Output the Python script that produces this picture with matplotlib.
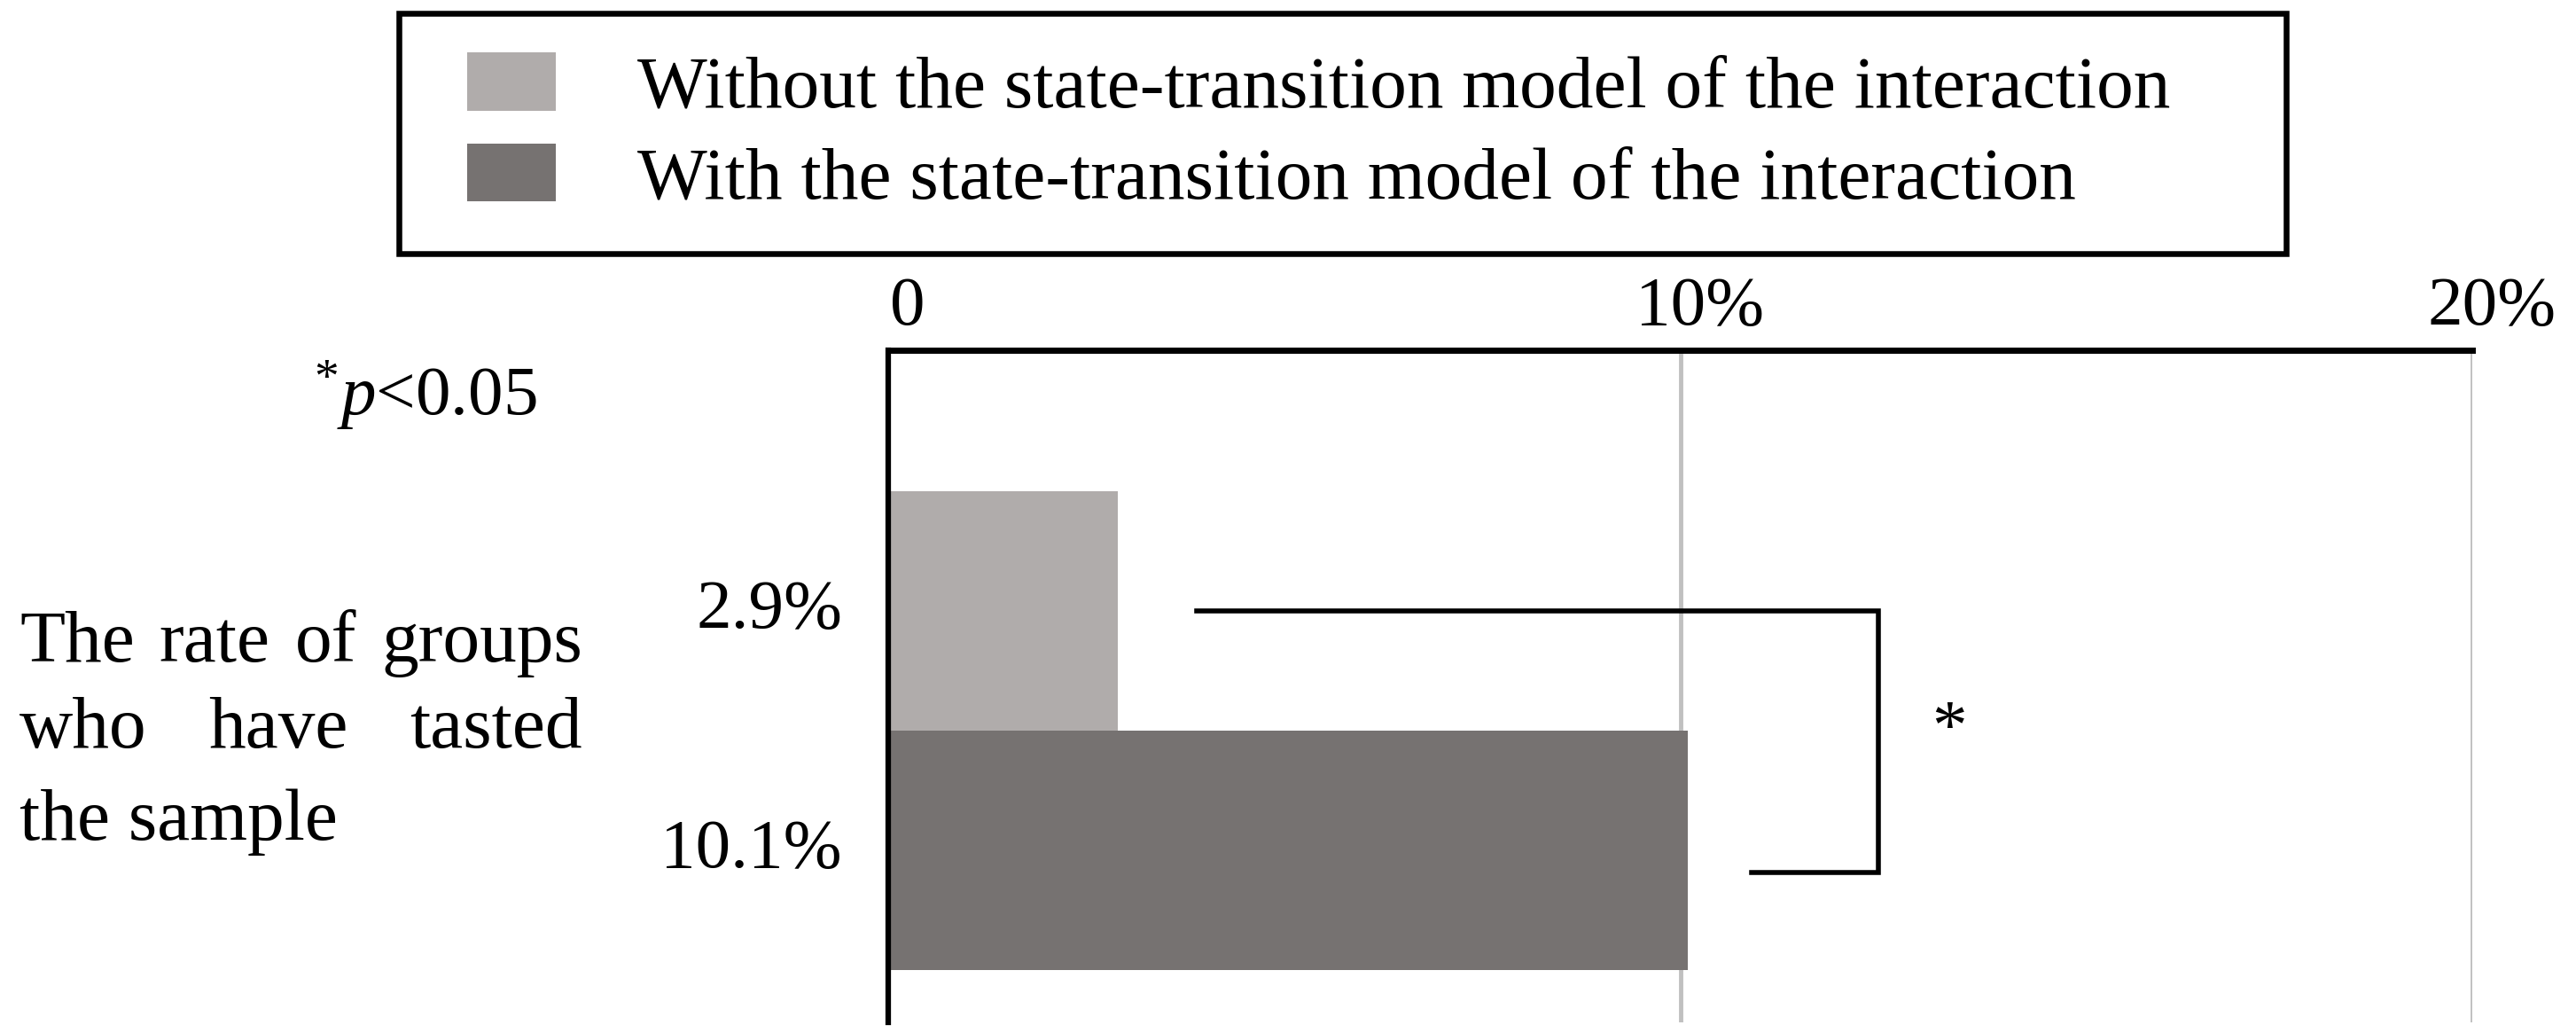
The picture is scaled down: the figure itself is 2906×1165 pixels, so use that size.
import matplotlib
matplotlib.use("Agg")
import matplotlib.pyplot as plt
import matplotlib.transforms as mtransforms
from matplotlib.container import BarContainer
from matplotlib.legend_handler import HandlerPatch, update_from_first_child

# data
series_names = [
    "Without the state-transition model of the interaction",
    "With the state-transition model of the interaction",
]
rates = [2.9, 10.1]
category_lines = ["The rate of groups", "who have tasted", "the sample"]
xticks = [0, 10, 20]
xtick_labels = ["0", "10%", "20%"]
note_text = r"${}^{*}p$<0.05"
colors = ["#B0ACAB", "#767271"]

plt.rcParams["font.family"] = "Liberation Serif"
plt.rcParams["mathtext.fontset"] = "custom"
plt.rcParams["mathtext.rm"] = "Liberation Serif"
plt.rcParams["mathtext.it"] = "Liberation Serif:italic"

FS = 60       # legend / category text
FS_NUM = 57   # numbers
W, H = 2906, 1165

fig = plt.figure(figsize=(W / 100, H / 100), dpi=100)
ax = fig.add_axes([1002 / W, 1 - 1153 / H, (2789 - 1002) / W, (1153 - 395) / H])

handles = []
for i, (name, val) in enumerate(zip(series_names, rates)):
    b = ax.barh([i], [val], height=1.0, color=colors[i], label=name, zorder=2)
    handles.append(b)
    ax.annotate(f"{val}%", xy=(0, i), xytext=(-52, 0), textcoords="offset pixels",
                ha="right", va="center", fontsize=FS_NUM)

ax.set_xlim(0, 20)
ax.set_ylim(1.717, -1.09)
ax.xaxis.tick_top()
ax.set_xticks(xticks)
ax.set_xticklabels(xtick_labels)
ax.tick_params(axis="x", length=0, pad=9, labelsize=FS_NUM)
# labels sit a bit right of the gridlines in the original
shift = mtransforms.ScaledTranslation(0.22, 0, fig.dpi_scale_trans)
for lab in ax.get_xticklabels():
    lab.set_transform(lab.get_transform() + shift)
ax.set_yticks([])
ax.grid(axis="x", color="#C0C0C0", linewidth=3.5)
ax.set_axisbelow(True)

for s in ["right", "bottom"]:
    ax.spines[s].set_visible(False)
ax.spines["top"].set_linewidth(5)
ax.spines["left"].set_linewidth(4.5)

# significance bracket
ax.plot([3.9, 12.5, 12.5, 10.9], [0, 0, 1.09, 1.09], color="black", lw=4,
        solid_joinstyle="miter", clip_on=False, zorder=3)
ax.text(13.4, 0.5, "*", ha="center", va="center", fontsize=FS_NUM)

fig.text(354 / W, 1 - 446 / H, note_text, ha="left", va="center", fontsize=FS_NUM)

# category label, justified like the original
renderer = fig.canvas.get_renderer()
left, right = 22 / W, 657 / W
line_y = [726, 823, 927]
for k, line in enumerate(category_lines):
    y = 1 - line_y[k] / H
    if k == len(category_lines) - 1:
        fig.text(left, y, line, ha="left", va="center", fontsize=FS)
        continue
    words = line.split()
    txts = [fig.text(left, y, w, ha="left", va="center", fontsize=FS) for w in words]
    widths = [t.get_window_extent(renderer).width / W for t in txts]
    gap = (right - left - sum(widths)) / (len(words) - 1)
    x = left
    for t, w in zip(txts, widths):
        t.set_x(x)
        x += w + gap

# legend: patches sit further in from the frame than the top padding
fs_px = FS * 100 / 72
bar_handler = HandlerPatch(xpad=33 / fs_px, update_func=update_from_first_child)
leg = fig.legend(handles=handles, loc="upper left",
                 bbox_to_anchor=(450 / W, 1 - 15 / H, 2129 / W, 0.0), mode="expand",
                 borderaxespad=0, fancybox=False, edgecolor="black", framealpha=1,
                 handlelength=133 / fs_px, handleheight=0.84, handletextpad=92 / fs_px,
                 borderpad=0.53, labelspacing=0.27, fontsize=FS,
                 handler_map={BarContainer: bar_handler})
leg.get_frame().set_linewidth(4.7)

fig.savefig("out.png", dpi=100)
